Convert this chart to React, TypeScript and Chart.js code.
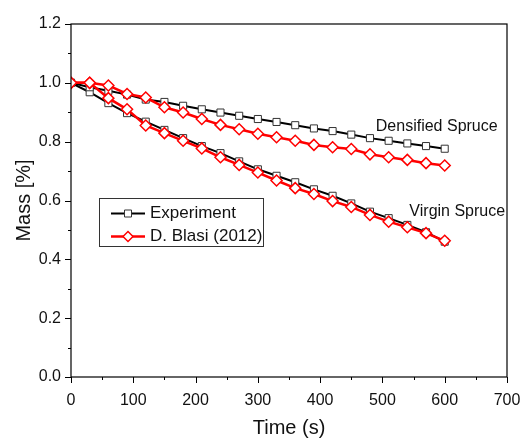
import React, { useEffect, useRef } from "react";
import { Chart, registerables } from "chart.js";

Chart.register(...registerables);

const timeS = [0, 30, 60, 90, 120, 150, 180, 210, 240, 270, 300, 330, 360, 390, 420, 450, 480, 510, 540, 570, 600];
const densifiedExperiment = [1.0, 0.985, 0.973, 0.96, 0.943, 0.935, 0.922, 0.91, 0.899, 0.888, 0.877, 0.867, 0.856, 0.845, 0.836, 0.824, 0.812, 0.803, 0.794, 0.785, 0.776];
const densifiedBlasi = [1.0, 1.0, 0.991, 0.962, 0.95, 0.917, 0.899, 0.877, 0.857, 0.842, 0.827, 0.815, 0.803, 0.789, 0.781, 0.775, 0.757, 0.747, 0.738, 0.727, 0.719];
const virginExperiment = [1.0, 0.968, 0.931, 0.897, 0.868, 0.84, 0.812, 0.785, 0.761, 0.733, 0.706, 0.684, 0.662, 0.638, 0.616, 0.59, 0.562, 0.54, 0.517, 0.492, 0.46];
const virginBlasi = [1.0, 1.0, 0.948, 0.91, 0.855, 0.829, 0.803, 0.777, 0.747, 0.721, 0.695, 0.668, 0.642, 0.622, 0.598, 0.578, 0.551, 0.528, 0.509, 0.489, 0.463];

const legendLabels = ["Experiment", "D. Blasi (2012)"];
const annotations = [
  { text: "Densified Spruce", x: 685, y: 0.852 },
  { text: "Virgin Spruce", x: 697, y: 0.563 },
];
const xMajor = [0, 100, 200, 300, 400, 500, 600, 700];
const xMinor = [50, 150, 250, 350, 450, 550, 650];
const yMajor = [0, 0.2, 0.4, 0.6, 0.8, 1.0, 1.2];
const yMinor = [0.1, 0.3, 0.5, 0.7, 0.9, 1.1];

const FONT = "Arial, 'Liberation Sans', sans-serif";
const BLACK = "#000000";
const RED = "#ff0000";

const toPts = (ys: number[]) => timeS.map((t, i) => ({ x: t, y: ys[i] }));

const framePlugin = {
  id: "frameTicks",
  afterDraw(chart: any) {
    const { ctx, chartArea: a, scales } = chart;
    const xs = scales.x;
    const ys = scales.y;
    ctx.save();
    ctx.strokeStyle = "#000";
    ctx.lineWidth = 1.2;
    ctx.strokeRect(a.left, a.top, a.right - a.left, a.bottom - a.top);
    ctx.lineWidth = 1;
    ctx.beginPath();
    xMajor.forEach((v) => {
      const px = Math.round(xs.getPixelForValue(v)) + 0.5;
      ctx.moveTo(px, a.bottom);
      ctx.lineTo(px, a.bottom + 6);
    });
    xMinor.forEach((v) => {
      const px = Math.round(xs.getPixelForValue(v)) + 0.5;
      ctx.moveTo(px, a.bottom);
      ctx.lineTo(px, a.bottom + 3);
    });
    yMajor.forEach((v) => {
      const py = Math.round(ys.getPixelForValue(v)) + 0.5;
      ctx.moveTo(a.left, py);
      ctx.lineTo(a.left - 6, py);
    });
    yMinor.forEach((v) => {
      const py = Math.round(ys.getPixelForValue(v)) + 0.5;
      ctx.moveTo(a.left, py);
      ctx.lineTo(a.left - 3, py);
    });
    ctx.stroke();

    // annotations
    ctx.fillStyle = "#111";
    ctx.font = `16px ${FONT}`;
    ctx.textAlign = "right";
    ctx.textBaseline = "middle";
    annotations.forEach((an) => {
      ctx.fillText(an.text, xs.getPixelForValue(an.x), ys.getPixelForValue(an.y));
    });

    // legend
    const bx = 99, by = 198, bw = 164, bh = 48;
    ctx.fillStyle = "#fff";
    ctx.fillRect(bx, by, bw, bh);
    ctx.strokeStyle = "#333";
    ctx.lineWidth = 1;
    ctx.strokeRect(bx + 0.5, by + 0.5, bw, bh);
    const rows = [
      { color: BLACK, style: "rect", y: 213.5, lw: 2, bw: 1 },
      { color: RED, style: "rectRot", y: 236.5, lw: 2.5, bw: 1.5 },
    ];
    rows.forEach((r, i) => {
      ctx.strokeStyle = r.color;
      ctx.lineWidth = r.lw;
      ctx.beginPath();
      ctx.moveTo(111, r.y);
      ctx.lineTo(145, r.y);
      ctx.stroke();
      ctx.fillStyle = "#fff";
      ctx.beginPath();
      if (r.style === "rect") {
        ctx.rect(124.5, r.y - 3.5, 7, 7);
      } else {
        ctx.moveTo(128 - 5, r.y);
        ctx.lineTo(128, r.y - 5);
        ctx.lineTo(128 + 5, r.y);
        ctx.lineTo(128, r.y + 5);
        ctx.closePath();
      }
      ctx.fill();
      ctx.lineWidth = r.bw;
      ctx.strokeStyle = r.style === "rect" ? "#333" : RED;
      ctx.stroke();
      ctx.fillStyle = "#111";
      ctx.font = `17px ${FONT}`;
      ctx.textAlign = "left";
      ctx.textBaseline = "middle";
      ctx.fillText(legendLabels[i], 150, r.y);
    });
    ctx.restore();
  },
};

export default function App() {
  const ref = useRef<HTMLCanvasElement>(null);
  useEffect(() => {
    document.body.style.margin = "0";
    const redDs = (ys: number[], label: string) => ({
      label,
      data: toPts(ys),
      borderColor: RED,
      borderWidth: 2.5,
      backgroundColor: "#fff",
      pointStyle: "rectRot",
      pointRadius: 5.5,
      pointBorderWidth: 1.5,
      pointBorderColor: RED,
      pointBackgroundColor: "#fff",
      tension: 0,
    });
    const blackDs = (ys: number[], label: string) => ({
      label,
      data: toPts(ys),
      borderColor: BLACK,
      borderWidth: 2,
      backgroundColor: "#fff",
      pointStyle: "rect",
      pointRadius: 5,
      pointBorderWidth: 1,
      pointBorderColor: "#333",
      pointBackgroundColor: "#fff",
      tension: 0,
    });
    const chart = new Chart(ref.current!, {
      type: "line",
      data: {
        datasets: [
          redDs(densifiedBlasi, legendLabels[1]),
          redDs(virginBlasi, legendLabels[1]),
          blackDs(densifiedExperiment, legendLabels[0]),
          blackDs(virginExperiment, legendLabels[0]),
        ],
      },
      options: {
        responsive: false,
        animation: false,
        layout: { padding: { left: 0, top: 24, right: 16, bottom: 0 } },
        plugins: { legend: { display: false }, tooltip: { enabled: false } },
        scales: {
          x: {
            type: "linear",
            min: 0,
            max: 700,
            afterFit: (s: any) => { s.height = 64; s.paddingLeft = 0; s.paddingRight = 0; },
            grid: { display: false, drawTicks: false },
            border: { display: false },
            ticks: { stepSize: 100, color: "#111", font: { size: 16, family: FONT }, padding: 14, maxRotation: 0 },
            title: { display: true, text: "Time (s)", color: "#111", font: { size: 20, family: FONT }, padding: { top: 0, bottom: 1 } },
          },
          y: {
            type: "linear",
            min: 0,
            max: 1.2,
            afterFit: (s: any) => { s.width = 71; s.paddingTop = 0; s.paddingBottom = 0; },
            grid: { display: false, drawTicks: false },
            border: { display: false },
            ticks: { stepSize: 0.2, color: "#111", font: { size: 16, family: FONT }, padding: 10, callback: (v: any) => Number(v).toFixed(1) },
            title: { display: true, text: "Mass [%]", color: "#111", font: { size: 20, family: FONT }, padding: { top: 12, bottom: 0 } },
          },
        },
      },
      plugins: [framePlugin],
    } as any);
    return () => chart.destroy();
  }, []);
  return (
    <div style={{ position: "absolute", left: 0, top: 0, width: 523, height: 441 }}>
      <canvas ref={ref} width={523} height={441} style={{ display: "block", width: 523, height: 441 }} />
    </div>
  );
}
